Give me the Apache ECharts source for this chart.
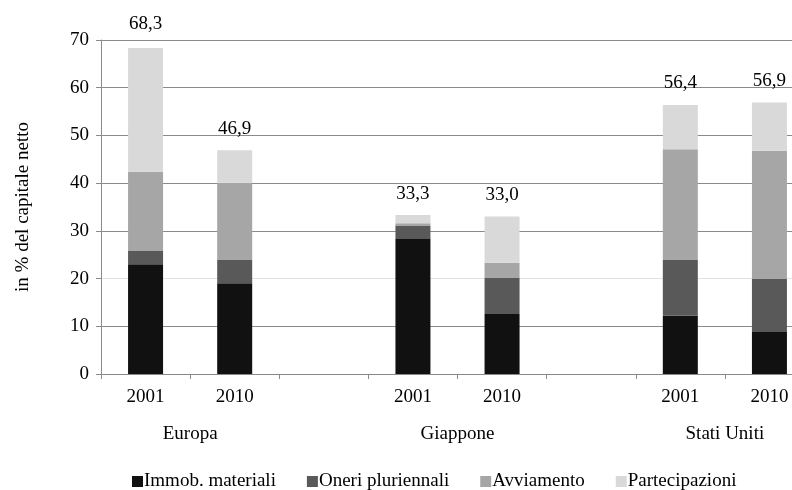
<!DOCTYPE html>
<html>

<head>
  <meta charset="UTF-8">
  <title>Capitale netto</title>
  <script src="https://cdn.jsdelivr.net/npm/echarts@6/dist/echarts.min.js"></script>
</head>

<body style="margin:0">
  <div id="main" style="width: 792px;height:490px;"></div>
  <script type="text/javascript">
    // categorie (gli spazi vuoti separano le aree)
    var anni = ['2001', '2010', '', '2001', '2010', '', '2001', '2010'];
    var aree = ['', 'Europa', '', '', 'Giappone', '', '', 'Stati Uniti', ''];
    var yTicks = [0, 10, 20, 30, 40, 50, 60, 70];

    var immob = [23.0, 19.0, null, 28.3, 12.6, null, 12.2, 8.8];
    var oneri = [2.8, 5.0, null, 2.8, 7.6, null, 11.8, 11.1];
    var avviamento = [16.6, 16.1, null, 0.5, 3.1, null, 23.1, 26.9];
    var partecipazioni = [25.9, 6.8, null, 1.7, 9.7, null, 9.3, 10.1];
    var totali = [68.3, 46.9, null, 33.3, 33.0, null, 56.4, 56.9];

    var font = 'Liberation Serif';
    var fs = 19;
    var myChart = echarts.init(document.getElementById('main'));

    // etichette dei totali sopra l'ultimo segmento
    var partData = partecipazioni.map(function (v, i) {
      if (v == null) return null;
      return {
        value: v,
        label: {
          show: true,
          position: 'top',
          distance: i === 0 ? 15 : 12,
          formatter: totali[i].toFixed(1).replace('.', ',')
        }
      };
    });

    // colori delle linee di griglia (quella a 20 è più chiara)
    var gridColors = yTicks.map(function (t) { return t === 20 ? '#e2e2e2' : '#8a8a8a'; });

    function serie(nome, dati, colore) {
      return {
        name: nome,
        type: 'bar',
        stack: 'tot',
        barWidth: 35,
        data: dati,
        itemStyle: { color: colore },
        label: { color: '#000', fontFamily: font, fontSize: fs }
      };
    }

    var option = {
      animation: false,
      textStyle: { fontFamily: font },
      // il grafico originale è tagliato a destra
      grid: { left: 101, width: 713, top: 40, bottom: 116, outerBoundsMode: 'none' },
      legend: {
        left: 127,
        bottom: -6,
        itemWidth: 11,
        itemHeight: 11,
        itemGap: 31,
        icon: 'rect',
        textStyle: { fontFamily: font, fontSize: fs, color: '#000', padding: [0, 0, 0, -4] },
        data: ['Immob. materiali', 'Oneri pluriennali', 'Avviamento', 'Partecipazioni']
      },
      xAxis: [{
        type: 'category',
        data: anni,
        axisLine: { lineStyle: { color: '#8a8a8a' } },
        axisTick: { show: true, length: 5, lineStyle: { color: '#8a8a8a' } },
        axisLabel: { interval: 0, margin: 14, color: '#000', fontFamily: font, fontSize: fs }
      }, {
        type: 'category',
        position: 'bottom',
        boundaryGap: false,
        data: aree,
        axisLine: { show: false },
        axisTick: { show: false },
        axisLabel: { interval: 0, margin: 51, color: '#000', fontFamily: font, fontSize: fs }
      }],
      yAxis: {
        type: 'value',
        min: 0,
        max: 70,
        interval: 10,
        name: 'in % del capitale netto',
        nameLocation: 'middle',
        nameGap: 68,
        nameTextStyle: { fontFamily: font, fontSize: 19, color: '#000' },
        axisLine: { show: true, lineStyle: { color: '#8a8a8a' } },
        axisTick: { show: true, length: 5, lineStyle: { color: '#8a8a8a' } },
        axisLabel: { margin: 12, color: '#000', fontFamily: font, fontSize: fs },
        splitLine: { lineStyle: { color: gridColors } }
      },
      series: [
        serie('Immob. materiali', immob, '#111111'),
        serie('Oneri pluriennali', oneri, '#595959'),
        serie('Avviamento', avviamento, '#a6a6a6'),
        serie('Partecipazioni', partData, '#d9d9d9')
      ]
    };

    myChart.setOption(option);
  </script>
</body>

</html>
